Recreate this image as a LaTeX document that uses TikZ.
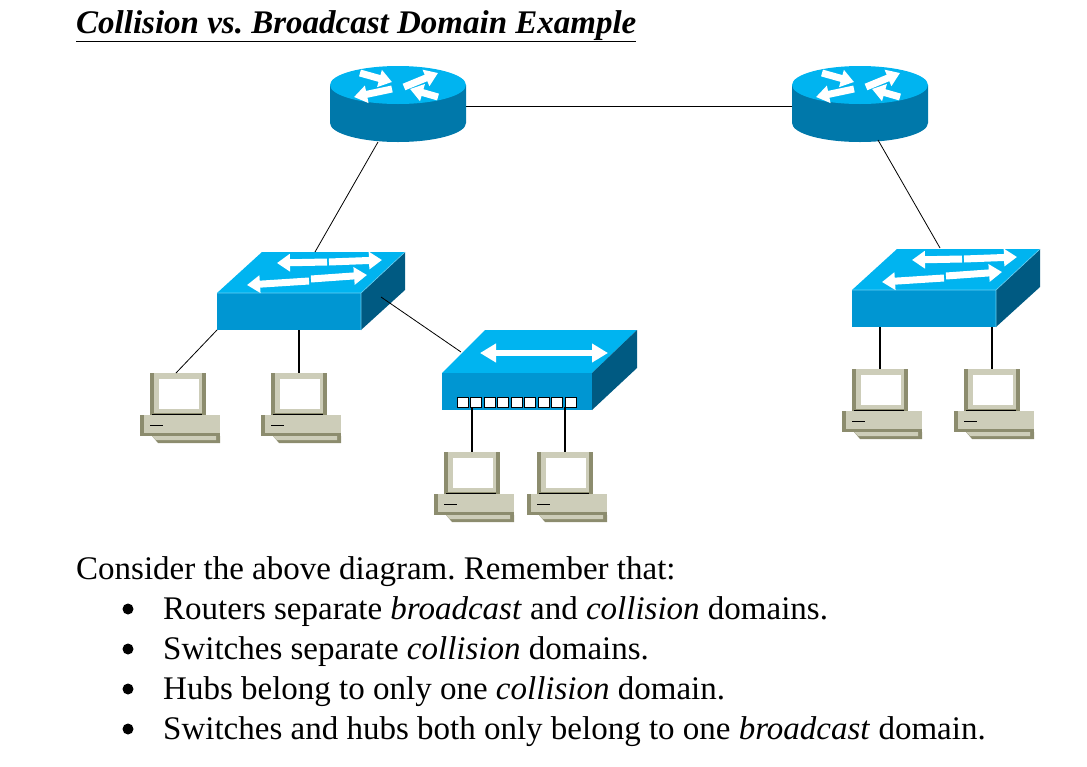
\documentclass[tikz,border=0pt]{standalone}
\usepackage{fontspec}
\setmainfont{Liberation Serif}
\frenchspacing
\usetikzlibrary{arrows.meta}
\definecolor{ctop}{RGB}{0,180,240}
\definecolor{cfront}{RGB}{0,150,210}
\definecolor{cside}{RGB}{0,90,130}
\definecolor{rside}{RGB}{0,120,170}
\definecolor{pcl}{RGB}{205,205,185}
\definecolor{pcd}{RGB}{140,140,110}
\tikzset{
 link/.style={line width=0.8pt},
 warr/.style={white,line width=7pt,-{Triangle[width=17pt,length=13pt]}},
 txt/.style={inner sep=0,font=\fontsize{33}{36}\selectfont},
 router/.pic={
  \fill[rside] (-68,0) -- (-68,38) arc[start angle=180,end angle=0,x radius=68,y radius=19] -- (68,0) -- cycle;
  \fill[ctop] (0,0) ellipse[x radius=68,y radius=19];
  \draw[warr] (-38,-12) -- (-6,-3);
  \draw[warr] (6,2) -- (40,-12);
  \draw[warr] (40,12) -- (12,4);
  \draw[warr] (-6,4) -- (-44,12);
 },
 switch/.pic={
  \fill[ctop] (0,0) -- (144,0) -- (188,-41) -- (45,-41) -- cycle;
  \fill[cfront] (0,0) rectangle (144,37);
  \fill[cside] (144,0) -- (188,-41) -- (188,-3) -- (144,37) -- cycle;
  \draw[ctop!60,line width=0.6pt] (0,0) -- (144,0) -- (188,-41) (144,0) -- (144,37);
  \draw[warr] (110,-31) -- (60,-30);
  \draw[warr] (112,-31) -- (165,-33);
  \draw[warr] (92,-12) -- (30,-8);
  \draw[warr] (94,-14) -- (150,-18);
 },
 hub/.pic={
  \fill[ctop] (0,0) -- (150,0) -- (195,-43) -- (43,-43) -- cycle;
  \fill[cfront] (0,0) rectangle (150,37);
  \fill[cside] (150,0) -- (195,-43) -- (195,-5) -- (150,37) -- cycle;
  \draw[white,line width=6pt,{Triangle[width=18pt,length=16pt]}-{Triangle[width=18pt,length=16pt]}] (38,-20) -- (166,-20);
  \foreach \i in {0,...,8} \fill[white,draw=black,line width=0.5pt] (15+\i*13.5,24) rectangle ++(11,10);
 },
 pc/.pic={
  \fill[pcd] (-28,0) rectangle (28,43);
  \fill[pcl] (-24,0) rectangle (28,40);
  \fill[pcd] (24,0) rectangle (28,43);
  \fill[white] (-19,6) rectangle (21,36);
  \fill[pcd] (-38,42) rectangle (42,63);
  \fill[pcl] (-34,42) rectangle (42,60);
  \draw[black,line width=1.2pt] (-26,41.5) -- (24,41.5);
  \draw[black,line width=0.8pt] (-28,52) -- (-15,52);
  \fill[pcd] (-26,63) -- (42,63) -- (42,70) -- (-20,70) -- cycle;
  \fill[pcl] (-26,63) -- (38,63) -- (38,67) -- (-22,67) -- cycle;
 }
}
\begin{document}
\begin{tikzpicture}[x=1pt,y=-1pt]
\useasboundingbox (0,0) rectangle (1087,766);
\pic at (398,85) {router};
\pic at (860,85) {router};
\coordinate (r1r) at (466,106); \coordinate (r2l) at (792,106);
\coordinate (r1b) at (378,142); \coordinate (r2b) at (878,140);
\draw[link] (r1r) -- (r2l);
\pic at (217,293) {switch};
\pic at (852,290) {switch};
\pic at (442,373) {hub};
\coordinate (s1t) at (315,252); \coordinate (s2t) at (940,248);
\coordinate (s1r) at (381,297); \coordinate (h1t) at (461,352);
\draw[link] (r1b) -- (s1t);
\draw[link] (r2b) -- (s2t);
\draw[link] (s1r) -- (h1t);
\pic at (178,373) {pc};
\pic at (299,373) {pc};
\pic at (472,452) {pc};
\pic at (565,452) {pc};
\pic at (880,369) {pc};
\pic at (992,369) {pc};
\coordinate (s1a) at (217,330); \coordinate (p1) at (176,373);
\coordinate (s1b) at (299,330); \coordinate (p2) at (299,373);
\coordinate (ha) at (472,407); \coordinate (p3) at (472,452);
\coordinate (hb) at (565,407); \coordinate (p4) at (565,452);
\coordinate (s2a) at (880,327); \coordinate (p5) at (880,369);
\coordinate (s2b) at (992,327); \coordinate (p6) at (992,369);
\draw[link] (s1a) -- (p1);
\draw[link,line width=1.2pt] (s1b) -- (p2) (ha) -- (p3) (hb) -- (p4) (s2a) -- (p5) (s2b) -- (p6);
\node[txt,anchor=base west,font=\fontsize{33}{36}\selectfont\bfseries\itshape] (title) at (76,33) {\underline{Collision vs. Broadcast Domain Example}};
\node[txt,anchor=base west] (t0) at (76,579) {Consider the above diagram. Remember that:};
\foreach \y/\t [count=\k] in {619/{Routers separate \emph{broadcast} and \emph{collision} domains.},659/{Switches separate \emph{collision} domains.},699/{Hubs belong to only one \emph{collision} domain.},739/{Switches and hubs both only belong to one \emph{broadcast} domain.}}{
 \fill (128,\y-10) circle (5.5pt);
 \node[txt,anchor=base west] (l\k) at (163,\y) {\t};
}
\end{tikzpicture}
\end{document}
